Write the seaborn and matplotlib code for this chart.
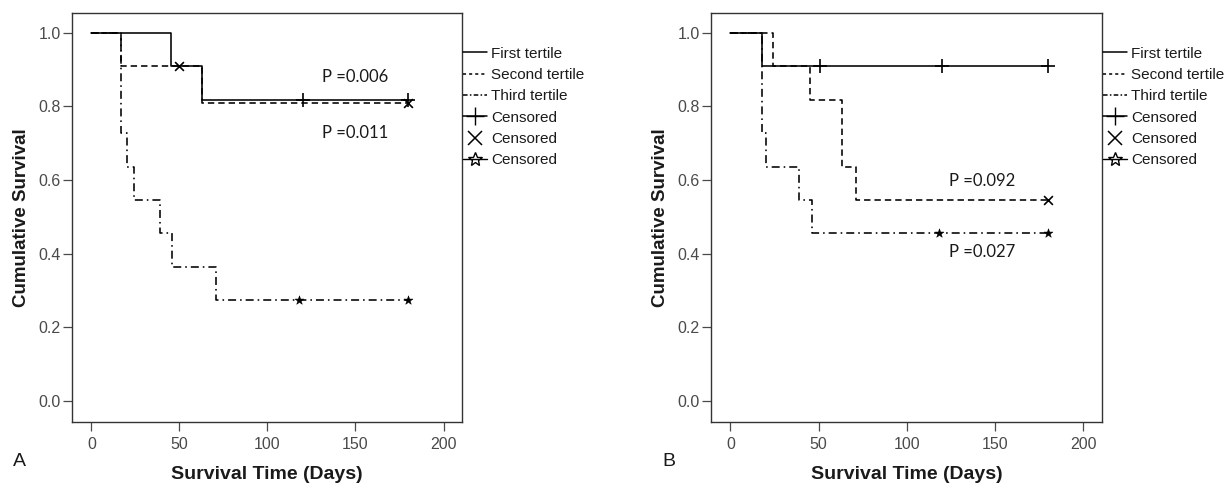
import numpy as np
import pandas as pd
import matplotlib
matplotlib.use("Agg")
import matplotlib.pyplot as plt
from matplotlib.lines import Line2D
import seaborn as sns

sns.set_theme(style="white")
plt.rcParams['font.family'] = ['Liberation Sans', 'DejaVu Sans']

# ---------------- data ----------------
tertiles = ["First tertile", "Second tertile", "Third tertile"]

# Panel A
a_first_t = [0, 45, 63, 180]
a_first_s = [1.0, 0.909, 0.818, 0.818]
a_first_ct = [120, 180]
a_first_cs = [0.818, 0.818]

a_second_t = [0, 17, 63, 180]
a_second_s = [1.0, 0.909, 0.808, 0.808]
a_second_ct = [50, 180]
a_second_cs = [0.909, 0.808]

a_third_t = [0, 17, 20, 24, 39, 46, 71, 180]
a_third_s = [1.0, 0.727, 0.636, 0.545, 0.455, 0.364, 0.273, 0.273]
a_third_ct = [118, 180]
a_third_cs = [0.273, 0.273]

a_pvals = ["P =0.006", "P =0.011"]
a_pval_pos = [(131, 0.88), (131, 0.728)]

# Panel B
b_first_t = [0, 18, 180]
b_first_s = [1.0, 0.909, 0.909]
b_first_ct = [51, 120, 180]
b_first_cs = [0.909, 0.909, 0.909]

b_second_t = [0, 24, 45, 63, 71, 180]
b_second_s = [1.0, 0.909, 0.818, 0.636, 0.545, 0.545]
b_second_ct = [180]
b_second_cs = [0.545]

b_third_t = [0, 18, 20, 39, 46, 180]
b_third_s = [1.0, 0.727, 0.636, 0.545, 0.455, 0.455]
b_third_ct = [118, 180]
b_third_cs = [0.455, 0.455]

b_pvals = ["P =0.092", "P =0.027"]
b_pval_pos = [(124, 0.597), (124, 0.404)]

x_ticks = [0, 50, 100, 150, 200]
y_ticks = [0.0, 0.2, 0.4, 0.6, 0.8, 1.0]
y_ticklabels = ["0.0", "0.2", "0.4", "0.6", "0.8", "1.0"]
xlabel = "Survival Time (Days)"
ylabel = "Cumulative Survival"
panel_letters = ["A", "B"]

# ---------------- style ----------------
line_styles = ["-", (0, (4, 2.5)), (0, (5, 2.5, 1, 2.5))]
cens_markers = ["+", "x", "*"]
cens_sizes = [100, 40, 45]
tick_col = "#4a4a4a"

fig = plt.figure(figsize=(12.32, 4.84), dpi=100)
axA = fig.add_axes([72/1232, 1-422/484, 390/1232, 409/484])
axB = fig.add_axes([711/1232, 1-422/484, 391/1232, 409/484])

panels = [
    (axA, [(a_first_t, a_first_s, a_first_ct, a_first_cs),
           (a_second_t, a_second_s, a_second_ct, a_second_cs),
           (a_third_t, a_third_s, a_third_ct, a_third_cs)], a_pvals, a_pval_pos),
    (axB, [(b_first_t, b_first_s, b_first_ct, b_first_cs),
           (b_second_t, b_second_s, b_second_ct, b_second_cs),
           (b_third_t, b_third_s, b_third_ct, b_third_cs)], b_pvals, b_pval_pos),
]

for idx, (ax, series, pvals, ppos) in enumerate(panels):
    for k, (t, s, ct, cs) in enumerate(series):
        df = pd.DataFrame({"t": t, "s": s})
        sns.lineplot(data=df, x="t", y="s", ax=ax, estimator=None, sort=False,
                     drawstyle="steps-post", color="black", linewidth=1.15,
                     linestyle=line_styles[k], legend=False)
        cdf = pd.DataFrame({"t": ct, "s": cs})
        if cens_markers[k] == "*":
            sns.scatterplot(data=cdf, x="t", y="s", ax=ax, marker="*",
                            s=cens_sizes[k], color="black", edgecolor="black",
                            linewidth=0.4, legend=False, zorder=5)
        else:
            sns.scatterplot(data=cdf, x="t", y="s", ax=ax, marker=cens_markers[k],
                            s=cens_sizes[k], color="black", linewidth=1.2,
                            legend=False, zorder=5)
    for txt, (px, py) in zip(pvals, ppos):
        ax.text(px, py, txt, fontsize=12, family=["Lato", "DejaVu Sans"],
                color="#1a1a1a", va="center", ha="left")

    ax.set_xlim(-11, 210.5)
    ax.set_ylim(-0.057, 1.053)
    ax.set_xticks(x_ticks)
    ax.set_xticklabels([str(v) for v in x_ticks])
    ax.set_yticks(y_ticks)
    ax.set_yticklabels(y_ticklabels)
    ax.tick_params(axis="both", which="both", direction="out", length=6.5,
                   width=0.9, colors=tick_col, labelsize=11.5, left=True, bottom=True)
    ax.tick_params(axis="y", pad=1.5)
    ax.tick_params(axis="x", pad=4)
    for sp in ax.spines.values():
        sp.set_visible(True)
        sp.set_color("#333333")
        sp.set_linewidth(1.0)
    ax.set_xlabel(xlabel, fontsize=14, fontweight="bold", color="#1a1a1a", labelpad=10.5)
    ax.set_ylabel(ylabel, fontsize=13.5, fontweight="bold", color="#1a1a1a", labelpad=6)

    handles = [
        Line2D([], [], color="black", lw=1.1, linestyle=line_styles[0]),
        Line2D([], [], color="black", lw=1.1, linestyle=(0, (2, 2))),
        Line2D([], [], color="black", lw=1.1, linestyle=(0, (3, 1.5, 1, 1.5))),
        Line2D([], [], color="black", lw=1.1, marker="+", markersize=13, linestyle="-"),
        Line2D([], [], color="black", lw=0, marker="x", markersize=10, markeredgewidth=1.1),
        Line2D([], [], color="black", lw=1.0, marker="*", markersize=10, linestyle="-",
               markerfacecolor="none"),
    ]
    labels = tertiles + ["Censored", "Censored", "Censored"]
    leg = ax.legend(handles, labels, loc="upper left", bbox_to_anchor=(1.002, 0.918),
                    frameon=False, fontsize=11, handlelength=1.6, handletextpad=0.25,
                    labelspacing=0.48, borderaxespad=0, borderpad=0)
    for txt in leg.get_texts():
        txt.set_color("#1a1a1a")

fig.text(13/1232, 1-462/484, panel_letters[0], fontsize=14, va="center", ha="left", color="#1a1a1a")
fig.text(662/1232, 1-462/484, panel_letters[1], fontsize=14, va="center", ha="left", color="#1a1a1a")

fig.savefig("out.png", dpi=100)
